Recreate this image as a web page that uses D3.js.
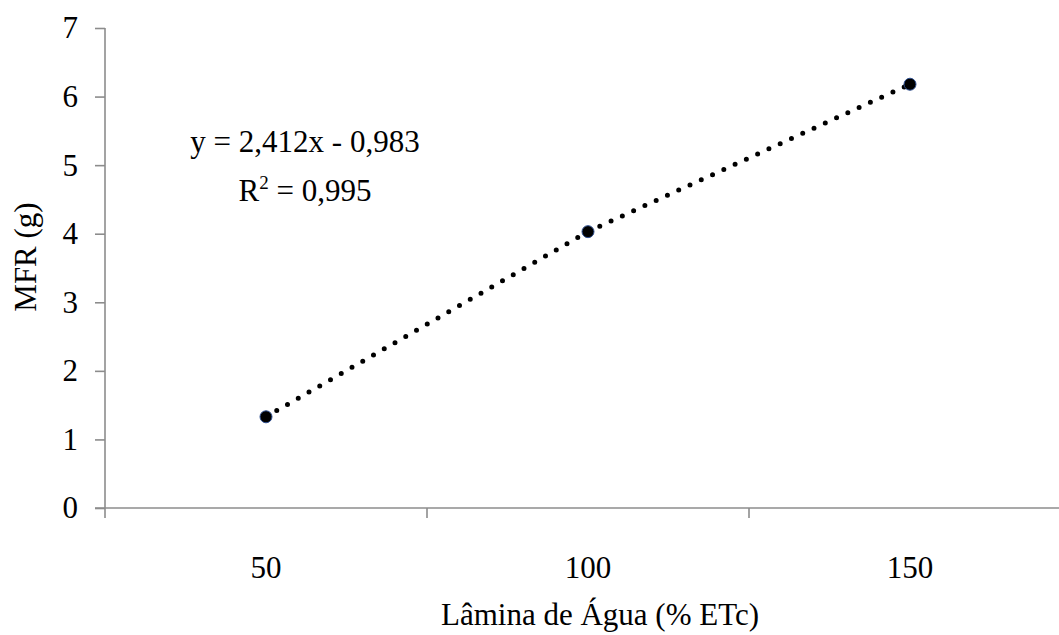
<!DOCTYPE html>
<html>
<head>
<meta charset="utf-8">
<script src="https://cdn.jsdelivr.net/npm/d3@7"></script>
<style>
  body { margin: 0; background: #fff; }
  svg { display: block; font-family: "Liberation Serif", "Times New Roman", serif; }
</style>
</head>
<body>
<svg></svg>
<script>
// chart data
let categories = ['50', '100', '150'];
let mfr = [1.33, 4.03, 6.18];
let yTicks = [0, 1, 2, 3, 4, 5, 6, 7];
let eqText = 'y = 2,412x - 0,983';
let r2Text = '0,995';

let width = 1059;
let height = 635;
let padLeft = 105;
let padTop = 28;
let baseY = 508;
let bandW = 322;
let fontSize = 31;
let axisColor = '#8c8c8c';

let svg = d3.select('svg')
    .attr('width', width)
    .attr('height', height);

/*scales: categories as bands, MFR linear*/
let xScale = d3.scaleBand()
    .domain(categories)
    .range([padLeft, padLeft + bandW * categories.length])
    .padding(0);
let yScale = d3.scaleLinear()
    .domain([0, 7])
    .range([baseY, padTop]);

/*y axis*/
let yAxis = d3.axisLeft(yScale)
    .tickValues(yTicks)
    .tickSize(10)
    .tickSizeOuter(0)
    .tickPadding(17)
    .tickFormat(d3.format('d'));
let gy = svg.append('g')
    .attr('transform', 'translate(' + padLeft + ',0)')
    .call(yAxis);
gy.select('.domain').remove();
gy.selectAll('line').attr('stroke', axisColor).attr('stroke-width', 1.6);
gy.selectAll('text')
    .attr('font-family', 'Liberation Serif')
    .attr('font-size', fontSize)
    .attr('fill', '#000');
gy.append('line')
    .attr('x1', 0).attr('x2', 0)
    .attr('y1', padTop).attr('y2', baseY + 10)
    .attr('stroke', axisColor).attr('stroke-width', 1.6);

/*x axis: labels at band centres, ticks at band edges*/
let xAxis = d3.axisBottom(xScale)
    .tickSize(0)
    .tickSizeOuter(0)
    .tickPadding(48);
let gx = svg.append('g')
    .attr('transform', 'translate(0,' + baseY + ')')
    .call(xAxis);
gx.select('.domain').remove();
gx.selectAll('text')
    .attr('font-family', 'Liberation Serif')
    .attr('font-size', fontSize)
    .attr('fill', '#000');
gx.append('line')
    .attr('x1', padLeft - 10).attr('x2', width)
    .attr('y1', 0).attr('y2', 0)
    .attr('stroke', axisColor).attr('stroke-width', 1.6);
gx.selectAll('.edge')
    .data(categories.slice(1))
    .enter()
    .append('line')
    .attr('class', 'edge')
    .attr('x1', d => xScale(d)).attr('x2', d => xScale(d))
    .attr('y1', 0).attr('y2', 10)
    .attr('stroke', axisColor).attr('stroke-width', 1.6);

/*dotted line through the points*/
let cx = (i) => xScale(categories[i]) + xScale.bandwidth() / 2;
let line = d3.line()
    .x((d, i) => cx(i))
    .y(d => yScale(d));
svg.append('path')
    .attr('d', line(mfr))
    .attr('fill', 'none')
    .attr('stroke', '#000')
    .attr('stroke-width', 5)
    .attr('stroke-linecap', 'round')
    .attr('stroke-dasharray', '0 12.4');

/*points*/
svg.selectAll('circle')
    .data(mfr)
    .enter()
    .append('circle')
    .attr('cx', (d, i) => cx(i))
    .attr('cy', d => yScale(d))
    .attr('r', 6)
    .attr('fill', '#000')
    .attr('stroke', '#2f4f8f')
    .attr('stroke-width', 1);

/*equation and R²*/
svg.append('text')
    .attr('x', 305).attr('y', 152)
    .attr('text-anchor', 'middle')
    .attr('font-size', fontSize)
    .text(eqText);
let r2 = svg.append('text')
    .attr('x', 305).attr('y', 201)
    .attr('text-anchor', 'middle')
    .attr('font-size', fontSize);
r2.append('tspan').text('R');
r2.append('tspan').attr('dy', -12).attr('font-size', 19).text('2');
r2.append('tspan').attr('dy', 12).text(' = ' + r2Text);

/*axis titles*/
svg.append('text')
    .attr('x', 600).attr('y', 625)
    .attr('text-anchor', 'middle')
    .attr('font-size', fontSize)
    .text('Lâmina de Água (% ETc)');
svg.append('text')
    .attr('transform', 'translate(36,257) rotate(-90)')
    .attr('text-anchor', 'middle')
    .attr('font-size', fontSize)
    .text('MFR (g)');
</script>
</body>
</html>
